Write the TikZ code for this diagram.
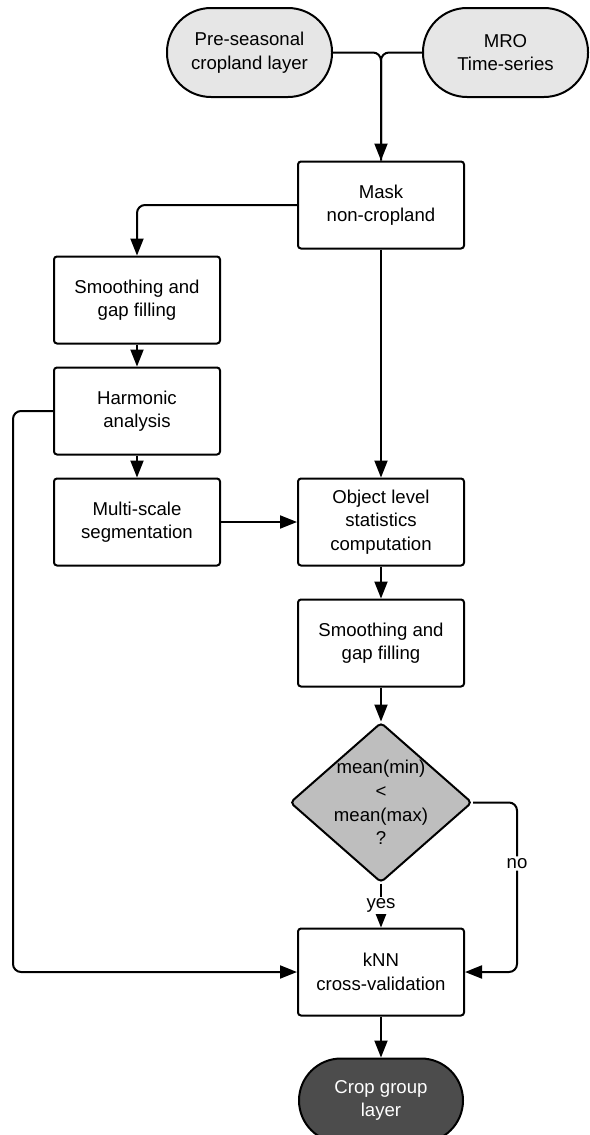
\documentclass[tikz,border=0pt]{standalone}
\usepackage{fontspec}
\setmainfont{Liberation Sans}
\usepackage{tikz}
\usetikzlibrary{arrows.meta,positioning,shapes.geometric}

\definecolor{srcgray}{HTML}{E6E6E6}
\definecolor{decgray}{HTML}{BEBEBE}
\definecolor{sinkgray}{HTML}{4C4C4C}

\begin{document}
\begin{tikzpicture}[x=0.5pt,y=-0.5pt,>={Triangle[length=8.5pt,width=6.5pt]},line width=1pt,
    every node/.style={font=\fontsize{9.3}{11.8}\selectfont, align=center},
    process/.style={draw, rectangle, rounded corners=1.5pt, minimum width=83pt, minimum height=43.5pt, fill=white},
    source/.style={draw, rectangle, rounded corners=22pt, minimum width=82.5pt, minimum height=44.5pt, fill=srcgray},
    sink/.style={draw, rectangle, rounded corners=21pt, minimum width=82pt, minimum height=42pt, fill=sinkgray, text=white},
    decision/.style={draw, diamond, rounded corners=2pt, minimum width=91pt, minimum height=80pt, inner sep=-3pt, fill=decgray},
    answer/.style={fill=white, inner sep=1pt}]
    \useasboundingbox (0,0) rectangle (589,1135);

    \node[source] (pre) at (249.5,52.5) {Pre-seasonal\\cropland layer};
    \node[source] (mro) at (505.5,52.5) {MRO\\Time-series};
    \node[process] (mask) at (381,205) {Mask\\non-cropland};
    \node[process] (smooth1) at (137,300) {Smoothing and\\gap filling};
    \node[process, below=11pt of smooth1] (harm) {Harmonic\\analysis};
    \node[process, below=11pt of harm] (multi) {Multi-scale\\segmentation};
    \node[process] (obj) at (mask |- multi) {Object level\\statistics\\computation};
    \node[process, below=16pt of obj] (smooth2) {Smoothing and\\gap filling};
    \node[decision, below=17pt of smooth2] (dec) {mean(min)\\<\\mean(max)\\?};
    \node[process, below=22pt of dec] (knn) {kNN\\cross-validation};
    \node[sink, below=20.5pt of knn] (crop) {Crop group\\layer};

    \coordinate (leftrail) at (13,0);
    \coordinate (rightrail) at (517,0);

    \path[->]
      (mask) edge (obj)
      (smooth1) edge (harm)
      (harm) edge (multi)
      (multi) edge (obj)
      (obj) edge (smooth2)
      (smooth2) edge (dec)
      (dec) edge node[answer]{yes} (knn)
      (knn) edge (crop)
    ;

    \draw[rounded corners=4pt] (pre.east) -| (mask.north);
    \draw[->, rounded corners=4pt] (mro.west) -| (mask.north);
    \draw[->, rounded corners=4pt] (mask.west) -| (smooth1.north);
    \draw[->, rounded corners=4pt] (harm.west) -| (leftrail |- knn.west) -- (knn.west);
    \draw[->, rounded corners=4pt] (dec.east) -| (rightrail |- knn.east) node[answer, pos=0.68]{no} -- (knn.east);
\end{tikzpicture}
\end{document}
